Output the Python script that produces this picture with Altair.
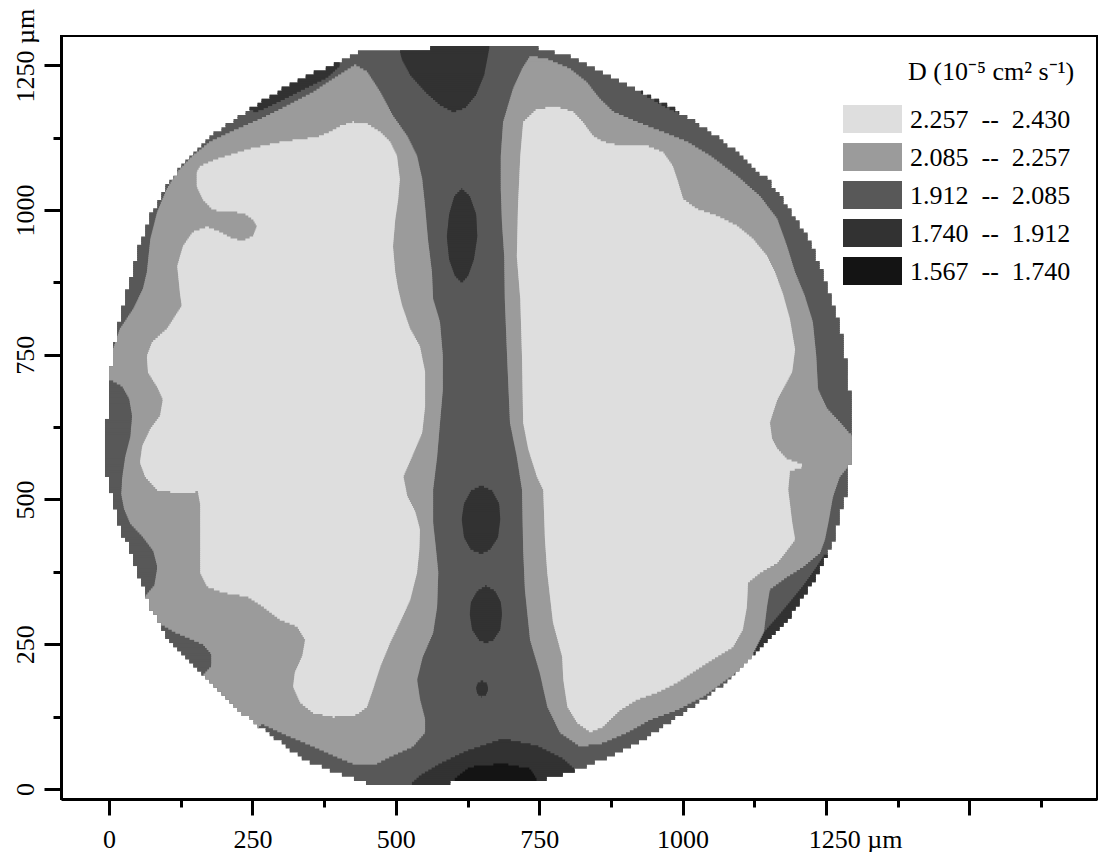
import math
import altair as alt
import pandas as pd

# ---------------- legend classes (D, 10^-5 cm^2 s^-1) ----------------
NB = "\u00a0"
LEVEL_LABELS = [
    "2.257" + NB * 2 + "--" + NB * 2 + "2.430",
    "2.085" + NB * 2 + "--" + NB * 2 + "2.257",
    "1.912" + NB * 2 + "--" + NB * 2 + "2.085",
    "1.740" + NB * 2 + "--" + NB * 2 + "1.912",
    "1.567" + NB * 2 + "--" + NB * 2 + "1.740",
]
LEVEL_COLORS = ["#dedede", "#9b9b9b", "#585858", "#323232", "#141414"]

# ---------------- contour regions, vertices in micrometres ----------------
OUTLINE_X = [446, 743, 804, 861, 921, 978, 1036, 1095, 1152, 1187, 1217, 1240, 1261, 1280, 1288, 1295, 1295, 1292, 1287, 1274,
             1261, 1245, 1234, 1210, 1187, 1152, 1123, 1083, 1036, 978, 921, 861, 804, 746, 598, 595, 473, 391, 333, 276,
             216, 159, 101, 72, 54, 33, 19, 7, -4, -4, 2, 14, 28, 49, 72, 101, 141, 188, 246, 303, 363, 403]
OUTLINE_Y = [1276, 1280, 1263, 1237, 1207, 1176, 1142, 1098, 1047, 1000, 953, 902, 845, 776, 719, 660, 603, 563, 516, 470,
             421, 392, 366, 332, 297, 257, 228, 188, 154, 114, 79, 50, 28, 14, 12, 4, 4, 28, 55, 97,
             142, 200, 263, 314, 361, 421, 447, 494, 539, 632, 719, 788, 845, 926, 988, 1040, 1092, 1133, 1173, 1207, 1237, 1256]

L4_LEFT_X = [429, 450, 473, 495, 520, 537, 546, 551, 556, 563, 565, 577, 582, 582, 577, 572, 565, 565, 570, 574,
             572, 565, 547, 537, 542, 551, 551, 530, 490, 464, 429, 403, 356, 310, 267, 228, 72, -16, -85, -85,
             7, 19, 42, 59, 66, 72, 84, 101, 119, 146, 176, 216, 263, 310, 356, 391]
L4_LEFT_Y = [1249, 1237, 1202, 1161, 1126, 1092, 1052, 1005, 948, 891, 845, 805, 746, 689, 632, 573, 516, 459, 413, 373,
             314, 269, 228, 188, 154, 119, 97, 73, 55, 42, 42, 52, 73, 92, 112, 76, 154, 326, 672, 776,
             758, 793, 827, 862, 891, 948, 995, 1035, 1064, 1092, 1116, 1135, 1155, 1178, 1202, 1225]

L4_RIGHT_X = [734, 764, 804, 833, 856, 879, 921, 966, 1008, 1048, 1095, 1135, 1165, 1182, 1196, 1213, 1227, 1233, 1236, 1252,
              1274, 1292, 1344, 1344, 1292, 1274, 1262, 1254, 1248, 1240, 1210, 1182, 1152, 1147, 1140, 1118, 1083, 1036, 990, 943,
              903, 861, 821, 786, 764, 751, 734, 725, 722, 720, 711, 699, 694, 690, 689, 685, 683, 683, 687, 704, 720]
L4_RIGHT_Y = [1264, 1259, 1242, 1219, 1190, 1168, 1150, 1133, 1116, 1092, 1057, 1022, 983, 936, 891, 850, 805, 746, 689, 655,
              632, 611, 603, 560, 560, 539, 504, 459, 430, 408, 383, 366, 344, 314, 257, 218, 193, 159, 136, 119,
              97, 79, 73, 97, 142, 200, 257, 344, 413, 516, 573, 632, 746, 845, 919, 978, 1035, 1092, 1150, 1207, 1242]

L5_LEFT_X = [153, 159, 188, 246, 303, 363, 385, 403, 425, 450, 473, 490, 502, 507, 504, 499, 495, 499, 504, 511,
             525, 542, 551, 551, 546, 528, 513, 520, 534, 542, 541, 537, 525, 507, 490, 473, 460, 450, 432, 391,
             356, 333, 321, 324, 337, 342, 328, 298, 269, 241, 199, 171, 159, 159, 159, 155, 119, 84, 63, 54,
             58, 72, 89, 94, 84, 68, 66, 75, 101, 127, 124, 119, 129, 146, 171, 194, 216, 234, 251, 258,
             251, 234, 206, 181, 164, 153]
L5_LEFT_Y = [1064, 1074, 1086, 1104, 1116, 1124, 1133, 1143, 1150, 1147, 1133, 1116, 1092, 1052, 1017, 983, 936, 891, 862, 833,
             793, 763, 719, 660, 615, 573, 539, 504, 477, 447, 413, 373, 326, 287, 252, 211, 171, 142, 128, 124,
             131, 149, 176, 200, 228, 257, 280, 292, 314, 332, 339, 349, 373, 413, 491, 513, 511, 516, 539, 563,
             591, 620, 643, 672, 694, 719, 746, 770, 793, 833, 853, 902, 936, 960, 969, 960, 948, 945, 953, 971,
             983, 995, 997, 1000, 1017, 1040]

L5_RIGHT_X = [722, 746, 781, 809, 826, 844, 861, 891, 938, 966, 983, 992, 1001, 1025, 1060, 1095, 1123, 1147, 1161, 1175,
              1187, 1196, 1191, 1165, 1152, 1156, 1165, 1182, 1205, 1212, 1200, 1187, 1184, 1191, 1196, 1187, 1165, 1135, 1114, 1112,
              1105, 1088, 1060, 1025, 990, 955, 921, 891, 861, 839, 816, 799, 792, 790, 774, 764, 760, 757, 746, 731,
              722, 720, 717, 711, 713, 717]
L5_RIGHT_Y = [1150, 1173, 1176, 1168, 1150, 1126, 1116, 1109, 1109, 1098, 1074, 1047, 1017, 1000, 988, 971, 948, 919, 891, 853,
              810, 758, 720, 672, 632, 603, 586, 568, 560, 556, 553, 548, 516, 459, 430, 418, 390, 373, 356, 314,
              275, 245, 228, 206, 183, 166, 154, 136, 107, 98, 114, 142, 188, 228, 287, 373, 430, 516, 539, 586,
              632, 746, 845, 919, 1005, 1092]

EDGE3_X = [-51, 5, 23, 35, 40, 37, 28, 23, 21, 26, 37, 58, 77, 84, 79, 63, 37, -51]
EDGE3_Y = [706, 703, 693, 672, 643, 608, 573, 539, 508, 482, 456, 434, 409, 382, 352, 333, 326, 326]

BLOB3_X = [89, 115, 141, 164, 178, 178, 164, 141, 106, 54]
BLOB3_Y = [283, 268, 257, 247, 231, 212, 197, 185, 171, 257]

TOP2_X = [504, 511, 525, 551, 577, 600, 621, 640, 654, 664]
TOP2_Y = [1285, 1259, 1233, 1204, 1181, 1169, 1176, 1199, 1233, 1285]

UL2_X = [255, 267, 303, 345, 380, 403, 385, 211]
UL2_Y = [1169, 1173, 1190, 1211, 1228, 1249, 1294, 1190]

UR2_X = [900, 935, 969, 1004, 1025, 1048, 926]
UR2_Y = [1221, 1197, 1178, 1162, 1152, 1173, 1242]

LR2_X = [1248, 1231, 1210, 1187, 1165, 1142, 1121, 1170, 1327]
LR2_Y = [404, 378, 349, 321, 295, 269, 228, 188, 378]

ELL_TOP_X = [615, 629, 640, 642, 636, 626, 615, 603, 593, 589, 593, 602]
ELL_TOP_Y = [1035, 1022, 991, 953, 914, 886, 874, 886, 914, 953, 991, 1022]

BLOB_MID_X = [649, 668, 680, 682, 678, 664, 649, 631, 619, 615, 619, 631]
BLOB_MID_Y = [522, 513, 491, 465, 434, 413, 406, 413, 434, 465, 491, 513]

ELL_LOW_X = [657, 673, 683, 685, 682, 670, 657, 645, 633, 629, 631, 642]
ELL_LOW_Y = [349, 340, 321, 301, 275, 257, 252, 257, 275, 301, 321, 340]

DOT_X = [650, 659, 661, 657, 649, 642, 640, 643]
DOT_Y = [185, 180, 171, 162, 159, 164, 174, 181]

BOTTOM2_X = [516, 542, 577, 624, 687, 746, 792, 821, 839]
BOTTOM2_Y = [-2, 21, 42, 64, 85, 73, 50, 24, -10]

BOTTOM1_X = [586, 603, 629, 687, 734, 751, 760]
BOTTOM1_Y = [-10, 16, 36, 42, 33, 7, -10]

# drawing order (later regions painted over earlier ones); first item is the sample outline
REGIONS = [
    (2, OUTLINE_X, OUTLINE_Y),
    (1, L4_LEFT_X, L4_LEFT_Y),
    (1, L4_RIGHT_X, L4_RIGHT_Y),
    (0, L5_LEFT_X, L5_LEFT_Y),
    (0, L5_RIGHT_X, L5_RIGHT_Y),
    (2, EDGE3_X, EDGE3_Y),
    (2, BLOB3_X, BLOB3_Y),
    (3, TOP2_X, TOP2_Y),
    (3, UL2_X, UL2_Y),
    (3, UR2_X, UR2_Y),
    (3, LR2_X, LR2_Y),
    (3, ELL_TOP_X, ELL_TOP_Y),
    (3, BLOB_MID_X, BLOB_MID_Y),
    (3, ELL_LOW_X, ELL_LOW_Y),
    (3, DOT_X, DOT_Y),
    (3, BOTTOM2_X, BOTTOM2_Y),
    (4, BOTTOM1_X, BOTTOM1_Y),
]

FINE = 3.5      # scan-line height (um)
COARSE = 7.0    # measurement grid of the sample edge (um)


def row_spans(xs, ys, yc):
    cuts = []
    n = len(xs)
    for i in range(n):
        x1, y1 = xs[i], ys[i]
        x2, y2 = xs[(i + 1) % n], ys[(i + 1) % n]
        if (y1 <= yc) != (y2 <= yc):
            cuts.append(x1 + (yc - y1) * (x2 - x1) / (y2 - y1))
    cuts.sort()
    return list(zip(cuts[0::2], cuts[1::2]))


def clip(spans, window):
    out = []
    for a, b in spans:
        for c, d in window:
            lo, hi = max(a, c), min(b, d)
            if hi > lo:
                out.append((lo, hi))
    return out


k0 = math.floor(min(OUTLINE_Y) / FINE)
k1 = math.ceil(max(OUTLINE_Y) / FINE)
windows = {}
for k in range(k0, k1):
    y0 = k * FINE
    cy = (math.floor(y0 / COARSE) + 0.5) * COARSE
    w = [(round(a / COARSE) * COARSE, round(b / COARSE) * COARSE)
         for a, b in row_spans(OUTLINE_X, OUTLINE_Y, cy)]
    w = [(a, b) for a, b in w if b > a]
    if w:
        windows[k] = w

records = []
for idx, (lvl, xs, ys) in enumerate(REGIONS):
    for k, w in windows.items():
        y0 = k * FINE
        sp = w if idx == 0 else clip(row_spans(xs, ys, y0 + FINE / 2), w)
        for a, b in sp:
            records.append({"x": a, "x2": b, "y": y0, "y2": y0 + FINE * 1.6,
                            "level": LEVEL_LABELS[lvl]})

cells = pd.DataFrame(records)

# ---------------- chart ----------------
PLOT_W, PLOT_H = 1036, 763
FONT = "Liberation Serif"

x_axis = alt.Axis(
    values=list(range(0, 1626, 125)), format="d", grid=False,
    labelExpr="(datum.value % 250 != 0 || datum.value > 1250) ? '' : (datum.value == 1250 ? '1250 \u00b5m' : datum.label)",
    tickSize={"condition": {"test": "datum.value % 250 == 0", "value": 16}, "value": 8},
    labelOffset={"condition": {"test": "datum.value == 1250", "value": 29}, "value": 0},
    labelPadding=11, labelOverlap=False, labelFlush=False, title=None,
)
y_axis = alt.Axis(
    values=list(range(0, 1251, 125)), format="d", grid=False,
    labelExpr="(datum.value % 250 != 0) ? '' : (datum.value == 1250 ? '1250 \u00b5m' : datum.label)",
    tickSize={"condition": {"test": "datum.value % 250 == 0", "value": 17}, "value": 8},
    labelOffset={"condition": {"test": "datum.value == 1250", "value": -10}, "value": 0},
    labelAngle=270, labelAlign="center", labelBaseline="alphabetic",
    labelPadding=11, labelOverlap=False, labelFlush=False, title=None,
)

map_layer = alt.Chart(cells).mark_rect(strokeWidth=0).encode(
    x=alt.X("x:Q", scale=alt.Scale(domain=[-83.7, 1722.4], nice=False, zero=False), axis=x_axis),
    x2="x2:Q",
    y=alt.Y("y:Q", scale=alt.Scale(domain=[-17.3, 1300.5], nice=False, zero=False), axis=y_axis),
    y2="y2:Q",
    color=alt.Color("level:N", scale=alt.Scale(domain=LEVEL_LABELS, range=LEVEL_COLORS), legend=None),
)

legend_df = pd.DataFrame({"label": LEVEL_LABELS, "row": list(range(len(LEVEL_LABELS)))})

legend_base = alt.Chart(legend_df).transform_calculate(
    top="69 + 38 * datum.row", bottom="97 + 38 * datum.row", mid="83.5 + 38 * datum.row"
)
legend_swatch = legend_base.mark_rect(strokeWidth=0).encode(
    x=alt.value(782), x2=alt.value(841),
    y=alt.Y("top:Q", scale=None, axis=None), y2="bottom:Q",
    color=alt.Color("label:N", scale=alt.Scale(domain=LEVEL_LABELS, range=LEVEL_COLORS), legend=None),
)
legend_text = legend_base.mark_text(align="left", baseline="middle", font=FONT, fontSize=26, color="black").encode(
    x=alt.value(849), y=alt.Y("mid:Q", scale=None, axis=None), text="label:N",
)
legend_title = alt.Chart(pd.DataFrame({"t": ["D (10\u207b\u2075 cm\u00b2 s\u207b\u00b9)"]})).mark_text(
    align="left", baseline="alphabetic", font=FONT, fontSize=26, color="black"
).encode(x=alt.value(847), y=alt.value(44), text="t:N")

chart = alt.layer(map_layer, legend_swatch, legend_text, legend_title).properties(
    width=PLOT_W, height=PLOT_H,
    autosize=alt.AutoSizeParams(type="none"),
    padding={"left": 61, "top": 36, "right": 2, "bottom": 53},
    background="white",
).configure_view(
    stroke="black", strokeWidth=2
).configure_axis(
    domainColor="black", domainWidth=3, tickColor="black", tickWidth=3,
    labelColor="black", labelFont=FONT, labelFontSize=26,
)

chart.save("out.html", embed_options={"renderer": "svg", "actions": False})
